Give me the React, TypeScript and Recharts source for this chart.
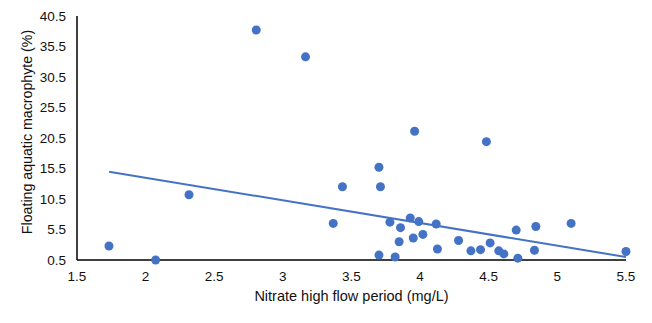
import React from 'react';
import { ScatterChart, Scatter, XAxis, YAxis } from 'recharts';

const BLUE = '#4472C4';

// nitrate (mg/L) vs floating macrophyte cover (%)
const nitrate = [
  1.733, 2.073, 2.316, 2.806, 3.165, 3.367, 3.434, 3.70, 3.711, 3.70,
  3.78, 3.818, 3.847, 3.857, 3.928, 3.95, 3.96, 3.99, 4.02, 4.117,
  4.126, 4.28, 4.37, 4.44, 4.483, 4.51, 4.573, 4.61, 4.70, 4.712,
  4.833, 4.843, 5.10, 5.5,
];
const macrophyte = [
  2.8, 0.5, 11.2, 38.2, 33.8, 6.5, 12.5, 15.7, 12.5, 1.3,
  6.7, 1.0, 3.5, 5.8, 7.4, 4.1, 21.6, 6.8, 4.7, 6.4,
  2.3, 3.7, 2.0, 2.2, 19.9, 3.3, 2.0, 1.5, 5.4, 0.8,
  2.1, 6.0, 6.5, 1.9,
];

// linear trendline end points
const trendX = [1.733, 5.5];
const trendY = [14.98, 0.99];

const xTicks = [1.5, 2, 2.5, 3, 3.5, 4, 4.5, 5, 5.5];
const yTicks = [0.5, 5.5, 10.5, 15.5, 20.5, 25.5, 30.5, 35.5, 40.5];

const points = nitrate.map((x, i) => ({ x, y: macrophyte[i] }));
const trend = trendX.map((x, i) => ({ x, y: trendY[i] }));

const FONT = 'Liberation Sans, Arial, sans-serif';
const tickStyle = { fontSize: 13.5, fill: '#111', fontFamily: FONT };

const YTitle = () => (
  <text
    x={27}
    y={132}
    transform="rotate(-90 27 132)"
    textAnchor="middle"
    dominantBaseline="central"
    fontSize={14.2}
    fontFamily={FONT}
    fill="#111"
  >
    Floating aquatic macrophyte (%)
  </text>
);

export default function App() {
  return (
    <div style={{ position: 'absolute', left: 0, top: 0, background: '#fff' }}>
      <ScatterChart width={652} height={323} margin={{ top: 16, right: 26, bottom: 0, left: 0 }}>
        <XAxis
          type="number"
          dataKey="x"
          domain={[1.5, 5.5]}
          ticks={xTicks}
          tickLine={false}
          tickSize={0}
          tickMargin={11}
          height={63}
          tick={tickStyle}
          axisLine={{ stroke: '#000', strokeWidth: 1.5 }}
          label={{
            value: 'Nitrate high flow period (mg/L)',
            position: 'insideBottom',
            offset: 21.6,
            style: { fontSize: 14.5, fill: '#111', fontFamily: FONT, textAnchor: 'middle' },
          }}
        />
        <YAxis
          type="number"
          dataKey="y"
          domain={[0.5, 40.5]}
          ticks={yTicks}
          tickLine={false}
          tickSize={0}
          tickMargin={11}
          width={77}
          tick={tickStyle}
          axisLine={{ stroke: '#000', strokeWidth: 1.5 }}
          label={<YTitle />}
        />
        <Scatter
          data={trend}
          line={{ stroke: BLUE, strokeWidth: 2 }}
          shape={() => <g />}
          isAnimationActive={false}
        />
        <Scatter
          data={points}
          fill={BLUE}
          shape={(p: any) => <circle cx={p.cx} cy={p.cy} r={4.5} fill={BLUE} />}
          isAnimationActive={false}
        />
      </ScatterChart>
    </div>
  );
}
